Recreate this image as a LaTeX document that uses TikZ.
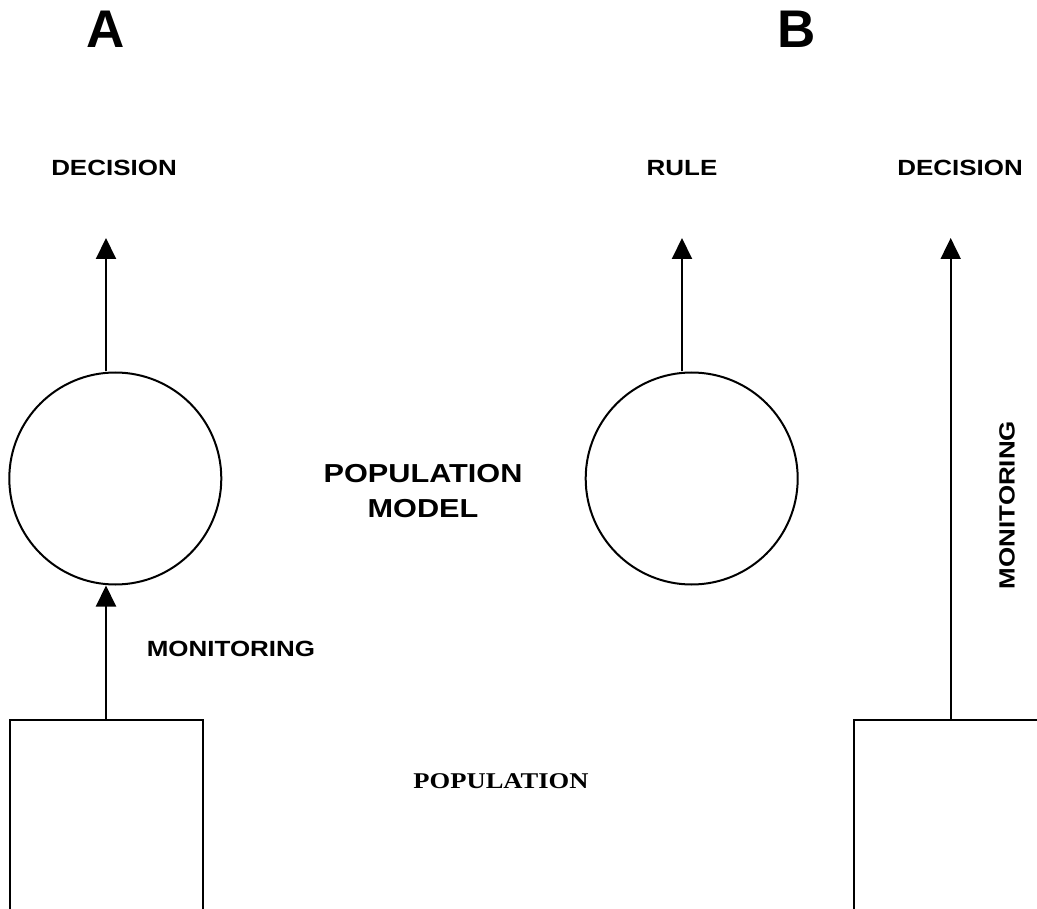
\documentclass[tikz,border=0pt]{standalone}
\usepackage{fontspec}
\usetikzlibrary{arrows.meta}
\newfontfamily\labfont[FakeStretch=1.18]{Liberation Sans}
\newfontfamily\serfont[FakeStretch=1.18]{Liberation Serif}
\newfontfamily\bigfont{Liberation Sans}
\begin{document}
\begin{tikzpicture}[x=1pt,y=-1pt,
  line width=2pt,
  circ/.style={draw,circle,minimum size=212pt,inner sep=0pt,line width=2pt},
  box/.style={draw,rectangle,minimum width=193pt,minimum height=300pt,inner sep=0pt,anchor=north,line width=2pt},
  arr/.style={-{Triangle[length=21pt,width=20pt]}},
  lab/.style={font=\labfont\bfseries\fontsize{22}{26}\selectfont,inner sep=0pt,anchor=base},
  big/.style={font=\labfont\bfseries\fontsize{26}{35}\selectfont,inner sep=0pt,align=center},
  ser/.style={font=\serfont\bfseries\fontsize{22.5}{26}\selectfont,inner sep=0pt,anchor=base},
  letter/.style={font=\bigfont\bfseries\fontsize{53}{60}\selectfont,inner sep=0pt,anchor=base}]
\useasboundingbox (0,0) rectangle (1037,909);
\clip (0,0) rectangle (1037,909);
% panel labels
\node[letter] (la) at (105.5,48) {A};
\node[letter] (lb) at (797,48) {B};
% panel A
\node[circ] (ca) at (115.3,478.5) {};
\node[box] (ra) at (106,719) {};
\coordinate (ta) at (106,238);
\draw[arr] (ra.north) -- (ra.north |- ca.south);
\draw[arr] (ta |- ca.north) -- (ta);
\node[lab] (deca) at (114,176) {DECISION};
\node[lab] (mona) at (231,656) {MONITORING};
% middle
\node[big] (pm) at (423,491) {POPULATION\\MODEL};
\node[ser] (pop) at (501,788) {POPULATION};
% panel B
\node[circ] (cb) at (691.7,478.5) {};
\coordinate (tb) at (682,238);
\draw[arr] (tb |- cb.north) -- (tb);
\node[lab] (rule) at (682,176) {RULE};
\node[box] (rb) at (950.7,719) {};
\coordinate (tc) at (950.7,238);
\draw[arr] (rb.north) -- (tc);
\node[lab] (decb) at (960,176) {DECISION};
\node[lab,rotate=90,anchor=center] (monb) at (1007,505) {MONITORING};
\end{tikzpicture}
\end{document}
